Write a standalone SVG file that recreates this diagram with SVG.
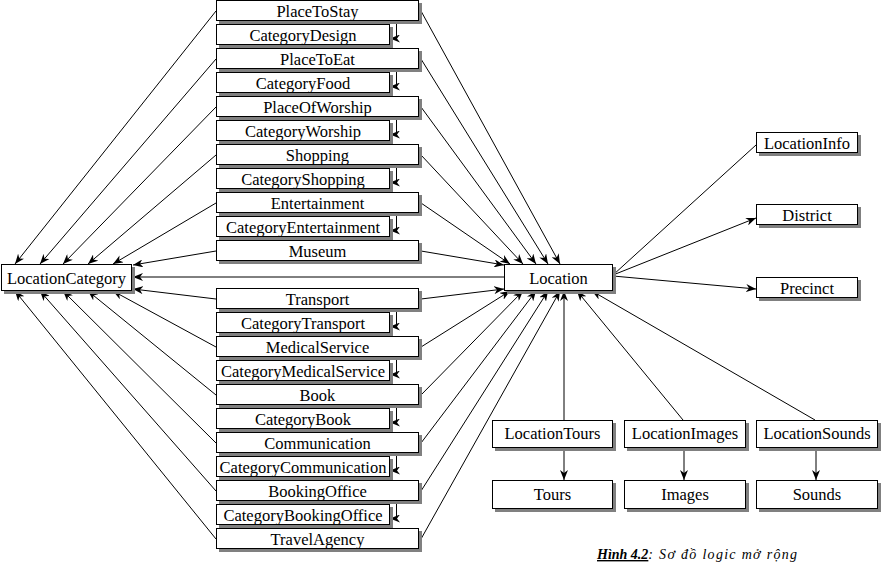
<svg xmlns="http://www.w3.org/2000/svg" width="882" height="578" viewBox="0 0 882 578">
<style>
.sh{fill:#808080}
.bx{fill:#fff;stroke:#000;stroke-width:1}
.t{font-family:"Liberation Serif","Times New Roman",serif;font-size:16.5px;fill:#000;text-anchor:middle}
.ln{fill:none;stroke:#000;stroke-width:1}
.cap{font-family:"Liberation Serif",serif;font-size:14px;font-style:italic;fill:#000}
</style>
<defs>
<marker id="ah" viewBox="0 0 10 8" refX="10" refY="4" markerWidth="10" markerHeight="8" markerUnits="userSpaceOnUse" orient="auto">
<path d="M0,0 L10,4 L0,8 L3,4 Z" fill="#000"/>
</marker>
</defs>
<rect width="882" height="578" fill="#fff"/>
<g id="connectors" class="ln">
<g marker-end="url(#ah)">
<path d="M216,11 L15,264"/>
<path d="M216,59 L40,264"/>
<path d="M216,107 L63,264"/>
<path d="M216,155 L88,264"/>
<path d="M216,203 L113,264"/>
<path d="M216,251 L133,265"/>
<path d="M504,277 L133,277"/>
<path d="M216,299 L133,289"/>
<path d="M216,347 L113,291"/>
<path d="M216,395 L88,291"/>
<path d="M216,443 L63,291"/>
<path d="M216,491 L40,291"/>
<path d="M216,539 L15,291"/>
<path d="M421,11 L560,264"/>
<path d="M421,59 L548,264"/>
<path d="M421,107 L536,264"/>
<path d="M421,155 L523,264"/>
<path d="M421,203 L510,264"/>
<path d="M421,251 L504,265"/>
<path d="M421,299 L504,289"/>
<path d="M421,347 L510,291"/>
<path d="M421,395 L523,291"/>
<path d="M421,443 L536,291"/>
<path d="M421,491 L548,291"/>
<path d="M421,539 L560,291"/>
<path d="M564,420 L564,291"/>
<path d="M683,420 L577,291"/>
<path d="M815,420 L592,291"/>
<path d="M613,275 L756,218"/>
<path d="M613,276 L756,289"/>
<path d="M564,447 L564,480"/>
<path d="M684,447 L684,480"/>
<path d="M816,447 L816,480"/>
<path d="M396.5,21 V38.5 H390"/>
<path d="M396.5,69 V86.5 H390"/>
<path d="M396.5,117 V134.5 H390"/>
<path d="M396.5,165 V182.5 H390"/>
<path d="M396.5,213 V230.5 H390"/>
<path d="M396.5,309 V326.5 H390"/>
<path d="M396.5,357 V374.5 H390"/>
<path d="M396.5,405 V422.5 H390"/>
<path d="M396.5,453 V470.5 H390"/>
<path d="M396.5,501 V518.5 H390"/>
</g>
<path d="M613,275 L756,145"/>
</g>
<g id="PlaceToStay"><rect class="sh" x="219" y="3" width="203" height="21"/><rect class="bx" x="216.5" y="0.5" width="202" height="20"/><text class="t" x="317.5" y="16.5">PlaceToStay</text></g>
<g id="CategoryDesign"><rect class="sh" x="219" y="27" width="174" height="21"/><rect class="bx" x="216.5" y="24.5" width="173" height="20"/><text class="t" x="303" y="40.5">CategoryDesign</text></g>
<g id="PlaceToEat"><rect class="sh" x="219" y="51" width="203" height="21"/><rect class="bx" x="216.5" y="48.5" width="202" height="20"/><text class="t" x="317.5" y="64.5">PlaceToEat</text></g>
<g id="CategoryFood"><rect class="sh" x="219" y="75" width="174" height="21"/><rect class="bx" x="216.5" y="72.5" width="173" height="20"/><text class="t" x="303" y="88.5">CategoryFood</text></g>
<g id="PlaceOfWorship"><rect class="sh" x="219" y="99" width="203" height="21"/><rect class="bx" x="216.5" y="96.5" width="202" height="20"/><text class="t" x="317.5" y="112.5">PlaceOfWorship</text></g>
<g id="CategoryWorship"><rect class="sh" x="219" y="123" width="174" height="21"/><rect class="bx" x="216.5" y="120.5" width="173" height="20"/><text class="t" x="303" y="136.5">CategoryWorship</text></g>
<g id="Shopping"><rect class="sh" x="219" y="147" width="203" height="21"/><rect class="bx" x="216.5" y="144.5" width="202" height="20"/><text class="t" x="317.5" y="160.5">Shopping</text></g>
<g id="CategoryShopping"><rect class="sh" x="219" y="171" width="174" height="21"/><rect class="bx" x="216.5" y="168.5" width="173" height="20"/><text class="t" x="303" y="184.5">CategoryShopping</text></g>
<g id="Entertainment"><rect class="sh" x="219" y="195" width="203" height="21"/><rect class="bx" x="216.5" y="192.5" width="202" height="20"/><text class="t" x="317.5" y="208.5">Entertainment</text></g>
<g id="CategoryEntertainment"><rect class="sh" x="219" y="219" width="174" height="21"/><rect class="bx" x="216.5" y="216.5" width="173" height="20"/><text class="t" x="303" y="232.5">CategoryEntertainment</text></g>
<g id="Museum"><rect class="sh" x="219" y="243" width="203" height="21"/><rect class="bx" x="216.5" y="240.5" width="202" height="20"/><text class="t" x="317.5" y="256.5">Museum</text></g>
<g id="Transport"><rect class="sh" x="219" y="291" width="203" height="21"/><rect class="bx" x="216.5" y="288.5" width="202" height="20"/><text class="t" x="317.5" y="304.5">Transport</text></g>
<g id="CategoryTransport"><rect class="sh" x="219" y="315" width="174" height="21"/><rect class="bx" x="216.5" y="312.5" width="173" height="20"/><text class="t" x="303" y="328.5">CategoryTransport</text></g>
<g id="MedicalService"><rect class="sh" x="219" y="339" width="203" height="21"/><rect class="bx" x="216.5" y="336.5" width="202" height="20"/><text class="t" x="317.5" y="352.5">MedicalService</text></g>
<g id="CategoryMedicalService"><rect class="sh" x="219" y="363" width="174" height="21"/><rect class="bx" x="216.5" y="360.5" width="173" height="20"/><text class="t" x="303" y="376.5">CategoryMedicalService</text></g>
<g id="Book"><rect class="sh" x="219" y="387" width="203" height="21"/><rect class="bx" x="216.5" y="384.5" width="202" height="20"/><text class="t" x="317.5" y="400.5">Book</text></g>
<g id="CategoryBook"><rect class="sh" x="219" y="411" width="174" height="21"/><rect class="bx" x="216.5" y="408.5" width="173" height="20"/><text class="t" x="303" y="424.5">CategoryBook</text></g>
<g id="Communication"><rect class="sh" x="219" y="435" width="203" height="21"/><rect class="bx" x="216.5" y="432.5" width="202" height="20"/><text class="t" x="317.5" y="448.5">Communication</text></g>
<g id="CategoryCommunication"><rect class="sh" x="219" y="459" width="174" height="21"/><rect class="bx" x="216.5" y="456.5" width="173" height="20"/><text class="t" x="303" y="472.5">CategoryCommunication</text></g>
<g id="BookingOffice"><rect class="sh" x="219" y="483" width="203" height="21"/><rect class="bx" x="216.5" y="480.5" width="202" height="20"/><text class="t" x="317.5" y="496.5">BookingOffice</text></g>
<g id="CategoryBookingOffice"><rect class="sh" x="219" y="507" width="174" height="21"/><rect class="bx" x="216.5" y="504.5" width="173" height="20"/><text class="t" x="303" y="520.5">CategoryBookingOffice</text></g>
<g id="TravelAgency"><rect class="sh" x="219" y="531" width="203" height="21"/><rect class="bx" x="216.5" y="528.5" width="202" height="20"/><text class="t" x="317.5" y="544.5">TravelAgency</text></g>
<g id="LocationCategory"><rect class="sh" x="4" y="267" width="131" height="27"/><rect class="bx" x="1.5" y="264.5" width="130" height="26"/><text class="t" x="66.5" y="284">LocationCategory</text></g>
<g id="Location"><rect class="sh" x="507" y="267" width="109" height="27"/><rect class="bx" x="504.5" y="264.5" width="108" height="26"/><text class="t" x="558.5" y="283.5">Location</text></g>
<g id="LocationInfo"><rect class="sh" x="759" y="135" width="102" height="21"/><rect class="bx" x="756.5" y="132.5" width="101" height="20"/><text class="t" x="807" y="148.5">LocationInfo</text></g>
<g id="District"><rect class="sh" x="759" y="207" width="102" height="21"/><rect class="bx" x="756.5" y="204.5" width="101" height="20"/><text class="t" x="807" y="220.5">District</text></g>
<g id="Precinct"><rect class="sh" x="759" y="280" width="102" height="21"/><rect class="bx" x="756.5" y="277.5" width="101" height="20"/><text class="t" x="807" y="293.5">Precinct</text></g>
<g id="LocationTours"><rect class="sh" x="495" y="423" width="121" height="28"/><rect class="bx" x="492.5" y="420.5" width="120" height="27"/><text class="t" x="552.5" y="439">LocationTours</text></g>
<g id="LocationImages"><rect class="sh" x="627" y="423" width="122" height="28"/><rect class="bx" x="624.5" y="420.5" width="121" height="27"/><text class="t" x="685" y="439">LocationImages</text></g>
<g id="LocationSounds"><rect class="sh" x="759" y="423" width="122" height="28"/><rect class="bx" x="756.5" y="420.5" width="121" height="27"/><text class="t" x="817" y="439">LocationSounds</text></g>
<g id="Tours"><rect class="sh" x="495" y="483" width="121" height="29"/><rect class="bx" x="492.5" y="480.5" width="120" height="28"/><text class="t" x="552.5" y="500">Tours</text></g>
<g id="Images"><rect class="sh" x="627" y="483" width="122" height="29"/><rect class="bx" x="624.5" y="480.5" width="121" height="28"/><text class="t" x="685" y="500">Images</text></g>
<g id="Sounds"><rect class="sh" x="759" y="483" width="122" height="29"/><rect class="bx" x="756.5" y="480.5" width="121" height="28"/><text class="t" x="817" y="500">Sounds</text></g>
<text class="cap" x="597" y="559"><tspan font-weight="bold" text-decoration="underline">Hình 4.2</tspan><tspan letter-spacing="1.3">: Sơ đồ logic mở rộng</tspan></text>
</svg>
